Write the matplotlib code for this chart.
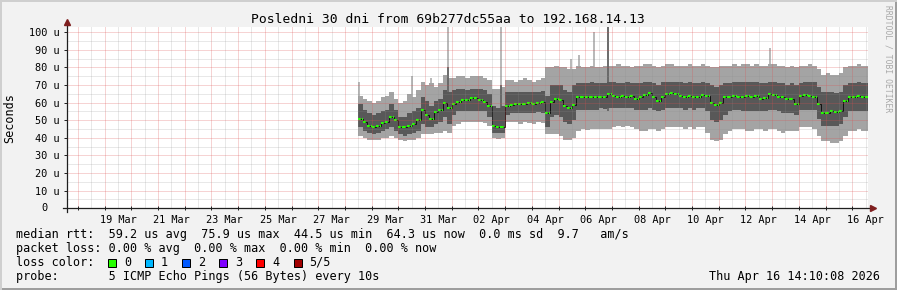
import matplotlib
import numpy as np

matplotlib.use("Agg")
import matplotlib.dates as mdates
import matplotlib.pyplot as plt
from matplotlib.patches import Rectangle
from matplotlib.ticker import FuncFormatter, MultipleLocator


W, H = 897, 290
BACK = "#f2f2f2"
SHADE_A = "#cfcfcf"
SHADE_B = "#9e9e9e"
SMOKE_LIGHT = "#a4a4a4"
SMOKE_DARK = "#585858"
MEDIAN_GREEN = "#26ff00"
ARROW = "#7f1f1f"
AXIS = "#1f1f1f"

# 4-hour buckets of the five sorted pings, first bucket 2026-03-28 12:00
bucket_start = np.datetime64("2026-03-28T12:00")
bucket_hours = 4

ping_max = [
    64, 62, 61,
    60, 61, 63, 64, 66, 62,
    60, 61, 65, 63, 67, 72,
    70, 71, 69, 71, 76, 74,
    74, 75, 75, 74, 75, 75,
    75, 74, 73, 68, 68, 69,
    73, 73, 72, 73, 74, 73,
    72, 73, 74, 80, 80, 81,
    80, 80, 79, 79, 81, 80,
    80, 81, 80, 80, 81, 81,
    81, 82, 81, 81, 80, 81,
    81, 82, 82, 81, 80, 81,
    82, 82, 81, 81, 81, 82,
    81, 81, 82, 81, 80, 80,
    81, 81, 81, 82, 81, 82,
    82, 81, 82, 81, 81, 82,
    82, 81, 81, 80, 81, 80,
    81, 81, 82, 81, 79, 76,
    77, 76, 76, 77, 80, 81,
    81, 82, 81, 81,
]
ping_q3 = [
    59, 56, 54,
    53, 54, 55, 56, 59, 56,
    52, 52, 54, 55, 57, 63,
    61, 58, 61, 62, 67, 66,
    67, 67.5, 67.5, 67, 67.5, 67.5,
    67.5, 67, 65, 58, 57, 58,
    66, 66, 66, 66, 66, 66,
    66, 66, 66.5, 64, 70, 70,
    70, 67, 66, 70, 71, 71,
    71, 71.5, 71, 71, 71, 72,
    71.5, 71, 71, 71.5, 71, 71,
    71, 72, 72, 71, 70, 72,
    72, 72, 72, 71.5, 71, 71.5,
    71, 71, 72, 71, 70, 69,
    70, 71, 71, 72, 72, 72,
    72, 71.5, 72, 71, 71, 72,
    71.5, 71, 71, 70, 71, 70,
    71, 71.5, 72, 71.5, 69, 66,
    66, 66, 65.5, 66, 70, 71,
    71, 71.5, 71, 71,
]
ping_median = [
    51, 49, 47,
    46, 47, 48.5, 49, 52, 50,
    46, 46, 47, 48, 50, 56,
    53, 51, 54.5, 56, 60, 57,
    59, 60.5, 61.5, 61.5, 62.5, 62.5,
    61.5, 60.5, 58, 47, 46, 46,
    58, 58.5, 59, 59, 59.5, 60,
    59.5, 60, 60.5, 54, 60.5, 62,
    61.5, 58, 57, 58.5, 63.5, 63,
    63, 63.5, 63, 63.5, 63.5, 65,
    64, 63.5, 64, 63, 64, 62,
    63, 64.5, 65.5, 63.5, 61, 63.5,
    65, 65.5, 65, 64, 63.5, 64,
    63, 63.5, 64.5, 64, 60, 58.5,
    60, 63, 63.5, 64, 63.5, 63.5,
    64, 63.5, 64, 62, 62.5, 65,
    64.5, 63, 63, 62, 62, 59.5,
    64, 64.5, 64, 63.5, 59, 54,
    54, 55, 54.5, 55, 61, 63.5,
    63.5, 64, 63, 63.5,
]
ping_q1 = [
    46, 44, 43,
    42, 43, 44, 45, 46, 44,
    42, 41, 42, 43, 44, 48,
    46, 46, 48, 49, 52, 48,
    53, 55, 55, 55, 55.5, 55.5,
    55, 55, 52, 43, 43, 43,
    53, 54, 54, 54, 54, 54,
    54, 54.5, 54, 46, 52, 53,
    52, 49, 48, 50, 56, 56,
    56, 56, 56, 57, 56.5, 57,
    57, 57, 57, 57, 57, 56,
    56, 56, 57, 56, 55, 56,
    57, 57, 57, 57, 56, 57,
    56, 57, 57, 55, 50, 49,
    50, 53, 55, 56, 56, 55,
    55, 55, 55.5, 55, 55, 56,
    56, 55, 54, 54, 54, 53,
    56, 56, 56, 56, 51, 47,
    47, 47, 47, 48, 52, 55,
    55, 55.5, 55, 55,
]
ping_min = [
    41, 40, 39,
    39, 39, 40, 40, 41, 40,
    39, 38, 39, 39, 40, 42,
    42, 42, 43, 43, 44, 43,
    47, 48, 49, 49, 49, 49,
    49, 48.5, 47, 40, 39.5, 40,
    49, 49, 49, 48, 49, 48.5,
    48, 49, 48.5, 42, 42, 42,
    41, 39, 39, 40, 44, 45,
    44.5, 45, 45, 45, 45, 45,
    46, 47, 46, 47, 46, 45,
    44, 44, 45, 45, 44, 45,
    46, 46, 46, 46, 45, 46,
    45, 46, 46, 43, 39, 38,
    39, 42, 44, 45, 45, 45,
    44, 44, 45, 45, 44, 45,
    45, 44, 43, 44, 44, 44,
    46, 46, 46, 45, 41, 38,
    38, 37, 37, 38, 41, 44,
    44, 45, 44, 44,
]

# single-sample outliers that stick out of the smoke
spike_times = [
    "2026-03-28T12:20", "2026-03-30T12:20", "2026-03-31T05:45", "2026-03-31T20:40",
    "2026-04-02T19:50", "2026-04-05T11:30", "2026-04-05T18:00", "2026-04-06T07:30",
    "2026-04-06T20:40", "2026-04-12T22:20",
]
spike_tops = [72, 75, 74, 103, 103, 85, 87, 100, 103, 91]
dark_spike_times = ["2026-03-31T20:40", "2026-04-02T19:50", "2026-04-06T20:40"]
dark_spike_tops = [80, 70, 103]

x_start = np.datetime64("2026-03-17T14:10:08")
x_end = np.datetime64("2026-04-16T14:10:08")
label_dates = [
    "2026-03-19", "2026-03-21", "2026-03-23", "2026-03-25", "2026-03-27",
    "2026-03-29", "2026-03-31", "2026-04-02", "2026-04-04", "2026-04-06",
    "2026-04-08", "2026-04-10", "2026-04-12", "2026-04-14", "2026-04-16",
]

title = "Posledni 30 dni from 69b277dc55aa to 192.168.14.13"
legend_lines = [
    "median rtt:  59.2 us avg  75.9 us max  44.5 us min  64.3 us now  0.0 ms sd  9.7   am/s",
    "packet loss: 0.00 % avg  0.00 % max  0.00 % min  0.00 % now",
    "loss color:",
    "probe:       5 ICMP Echo Pings (56 Bytes) every 10s",
]
loss_labels = ["0", "1", "2", "3", "4", "5/5"]
loss_colors = ["#26ff00", "#00b8ff", "#0059ff", "#7e00ff", "#ff0000", "#a10000"]
timestamp = "Thu Apr 16 14:10:08 2026"

plt.rcParams["font.family"] = ["DejaVu Sans Mono"]


def fig_xy(x, y):
    return x / W, 1 - y / H


figure = plt.figure(figsize=(W / 100, H / 100), dpi=100, facecolor=BACK)
axis = figure.add_axes([67 / W, 1 - 208.3 / H, 801 / W, 181.3 / H])
axis.set_facecolor("white")

n = len(ping_median)
edges = mdates.date2num(bucket_start + np.arange(n + 1) * np.timedelta64(bucket_hours, "h"))
spikes = mdates.date2num(np.array(spike_times, dtype="datetime64[m]"))
dark_spikes = mdates.date2num(np.array(dark_spike_times, dtype="datetime64[m]"))

axis.stairs(ping_max, edges, baseline=ping_min, fill=True, color=SMOKE_LIGHT, lw=0, zorder=1)
axis.vlines(spikes, 50, spike_tops, color=SMOKE_LIGHT, lw=1.1, zorder=1)
axis.stairs(ping_q3, edges, baseline=ping_q1, fill=True, color=SMOKE_DARK, lw=0, zorder=1.2)
axis.vlines(dark_spikes, 55, dark_spike_tops, color=SMOKE_DARK, lw=1.1, zorder=1.2)
axis.stairs(ping_median, edges, baseline=None, color="#111111", lw=0.7, zorder=1.4)
axis.hlines(ping_median, edges[:-1], edges[1:], color=MEDIAN_GREEN, lw=1.5,
            linestyles=(0, (1.3, 0.6)), zorder=1.5)

axis.set_xlim(mdates.date2num(x_start), mdates.date2num(x_end))
axis.set_ylim(0, 103)

label_set = set(label_dates)


def x_label(value, pos):
    day = mdates.num2date(value)
    return day.strftime("%d %b") if day.strftime("%Y-%m-%d") in label_set else ""


axis.xaxis.set_major_locator(mdates.DayLocator())
axis.xaxis.set_minor_locator(mdates.HourLocator(byhour=[12]))
axis.xaxis.set_major_formatter(FuncFormatter(lambda v, p: ""))
axis.xaxis.set_minor_formatter(FuncFormatter(x_label))
axis.yaxis.set_major_locator(MultipleLocator(10))
axis.yaxis.set_minor_locator(MultipleLocator(5))
axis.yaxis.set_major_formatter(FuncFormatter(lambda v, p: "" if v == 0 else f"{v:.0f} u"))

axis.tick_params(axis="x", which="major", direction="inout", length=3, width=0.7, color=AXIS)
axis.tick_params(axis="x", which="minor", length=0, pad=5, labelsize=7.4)
axis.tick_params(axis="y", which="major", direction="out", length=2.2, width=0.7,
                 color=AXIS, pad=3.3, labelsize=7.4)
axis.tick_params(axis="y", which="minor", length=0)
axis.annotate("0", xy=(0, 0), xycoords=("axes fraction", "data"), xytext=(-14.4, 0),
              textcoords="offset points", ha="right", va="center", fontsize=7.4)

# rrdtool puts its dotted grid on top of the graph
axis.set_axisbelow(False)
axis.grid(which="major", color="#de5050", alpha=0.5, ls=(0, (1, 1)), lw=0.72)
axis.grid(which="minor", color="#8f8f8f", alpha=0.4, ls=(0, (1, 1)), lw=0.72)

for spine in axis.spines.values():
    spine.set_visible(False)
axis.plot([-0.005, 1.004], [0, 0], transform=axis.transAxes, color=AXIS, lw=0.9, clip_on=False, zorder=5)
axis.plot([0, 0], [-0.02, 1.02], transform=axis.transAxes, color=AXIS, lw=0.9, clip_on=False, zorder=5)
axis.plot([1.006], [0], transform=axis.transAxes, marker=">", ms=4, color=ARROW, clip_on=False, zorder=6)
axis.plot([0], [1.03], transform=axis.transAxes, marker="^", ms=4, color=ARROW, clip_on=False, zorder=6)

figure.text(*fig_xy(447.5, 23.3), title, ha="center", va="baseline", fontsize=9.4)
figure.text(*fig_xy(10, 118), "Seconds", rotation=90, ha="center", va="center", fontsize=8.47)
figure.text(*fig_xy(887.5, 59), "RRDTOOL / TOBI OETIKER", rotation=270, ha="center",
            va="center", fontsize=5.8, color="#a8a8a8")

for row, line in enumerate(legend_lines):
    figure.text(*fig_xy(16, 237.7 + 14 * row), line, ha="left", va="baseline", fontsize=8.47)
figure.text(*fig_xy(880, 279.7), timestamp, ha="right", va="baseline", fontsize=8.47)

for k, (label, color) in enumerate(zip(loss_labels, loss_colors)):
    box_x = 108 + 37.1 * k
    figure.add_artist(Rectangle(fig_xy(box_x, 266.7), 8 / W, 7.5 / H, transform=figure.transFigure,
                                facecolor=color, edgecolor="black", lw=0.72))
    figure.text(*fig_xy(box_x + 16, 265.7), label, ha="left", va="baseline", fontsize=8.47)

for x, y, w, h, color in [
    (0, 0, 1, 2 / H, SHADE_B),
    (1 - 2 / W, 0, 2 / W, 1, SHADE_B),
    (0, 1 - 2 / H, 1, 2 / H, SHADE_A),
    (0, 0, 2 / W, 1, SHADE_A),
]:
    figure.add_artist(Rectangle((x, y), w, h, transform=figure.transFigure, color=color, lw=0))

figure.savefig("out.png", dpi=100, facecolor=BACK)
plt.close(figure)
